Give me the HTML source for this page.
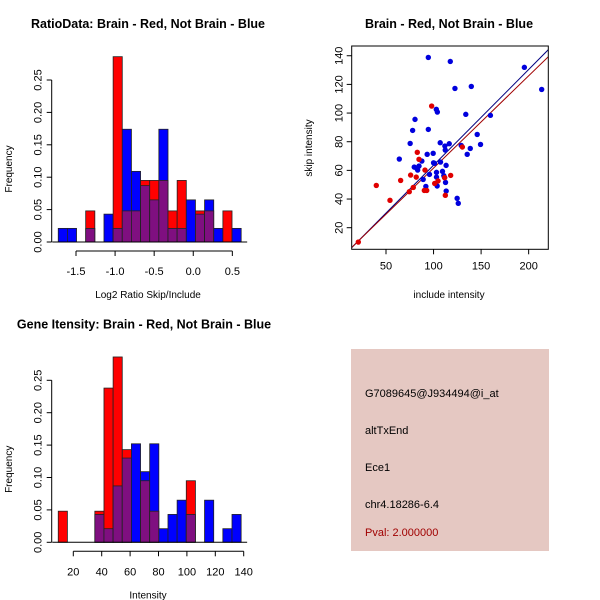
<!DOCTYPE html>
<html><head><meta charset="utf-8">
<style>
body{margin:0;background:#fff;}
svg{display:block;font-family:"Liberation Sans",Arial,sans-serif;}
</style></head>
<body>
<svg id="chart" width="600" height="600" viewBox="0 0 600 600">
<rect x="351" y="349" width="198" height="202" fill="#e5c8c2"/>
<text x="365" y="397" font-size="11">G7089645@J934494@i_at</text>
<text x="365" y="434" font-size="11">altTxEnd</text>
<text x="365" y="471" font-size="11">Ece1</text>
<text x="365" y="508" font-size="11">chr4.18286-6.4</text>
<text x="365" y="536" font-size="11" fill="#a00000">Pval: 2.000000</text>
</svg>
<script>
// ---- Ratio histogram data ----
const ratioBinStart = -1.727, ratioBinWidth = 0.117;
const ratioRed  = [0,0,0,0.048,0,0,0.286,0.048,0.048,0.095,0.095,0.095,0.048,0.095,0,0.048,0.048,0,0.048,0];
const ratioBlue = [0.021,0.021,0,0.021,0,0.043,0.021,0.174,0.109,0.087,0.065,0.174,0.021,0.021,0.065,0.043,0.065,0.021,0,0.021];
const ratioXTicks = [-1.5,-1.0,-0.5,0.0,0.5];
const ratioXLabels = ["-1.5","-1.0","-0.5","0.0","0.5"];
const freqTicks = [0,0.05,0.10,0.15,0.20,0.25];
const freqLabels = ["0.00","0.05","0.10","0.15","0.20","0.25"];
// ---- Intensity histogram data ----
const intBinStart = 9.4, intBinWidth = 6.44;
const intRed  = [0.048,0,0,0,0.048,0.238,0.286,0.143,0,0.095,0.048,0,0,0,0.095,0,0,0,0,0];
const intBlue = [0,0,0,0,0.043,0.021,0.087,0.130,0.152,0.109,0.152,0.021,0.043,0.065,0.043,0,0.065,0,0.021,0.043];
const intXTicks = [20,40,60,80,100,120,140];
const intXLabels = ["20","40","60","80","100","120","140"];
// ---- Scatter data ----
const blueX = [94.5,117.6,195.5,213.7,122.5,139.7,80.5,102.9,104,78,94.5,133.9,159.8,75.4,107,116.5,111.9,129.1,145.9,149.4,138.6,112.3,99.6,93.3,135.4,64,87.7,107.3,101,79.7,82.3,84.7,83.3,109.4,103.1,95.7,113.2,110.8,103.1,111.5,89.1,112.6,91.9,103.8,113.3,124.8,126,100];
const blueY = [138.8,136,131.9,116.5,117.2,118.6,95.6,102.6,100.7,87.9,88.6,99.1,98.4,78.8,79.3,78.6,77,77.4,85.1,78.1,75.3,74.2,71.9,71.2,71.2,67.9,66.5,65.8,64.9,62.3,61.4,63,60.2,59.3,58.6,57.2,63.5,56.3,55.3,55.1,53.7,51.6,48.8,49.1,45.6,40.5,37,65.3];
const redX = [20.9,39.8,54.2,65.4,75.9,74.5,78.7,81.8,82.9,84.7,91,90.3,92.8,98,101.2,104.7,112.4,111.7,118,130.3];
const redY = [10,49.5,39.1,53,56.7,45.1,48.1,55.3,72.6,67.7,60.2,46,46,104.9,50.9,52.6,42.6,54.9,56.5,76.3];
const blueFit = [-3.2,0.668]; // intercept, slope
const redFit = [-2.8,0.644];
const scXTicks = [50,100,150,200];
const scYTicks = [20,40,60,80,100,120,140];

const svg = document.getElementById('chart');
const NS = 'http://www.w3.org/2000/svg';
function mk(tag, attrs, parent){const e=document.createElementNS(NS,tag);for(const k in attrs)e.setAttribute(k,attrs[k]);(parent||svg).appendChild(e);return e;}
function txt(x,y,s,attrs,parent){const e=mk('text',Object.assign({x:x,y:y,'font-size':11},attrs||{}),parent);e.textContent=s;return e;}

function histogram(cfg){
  const g = mk('g',{});
  
  
  const X = v => cfg.x0 + (v - cfg.xref) * cfg.xs;
  const Y = v => cfg.base - v * 648;
  for(let i=0;i<cfg.red.length;i++){
    const a = cfg.start + i*cfg.w, b = a + cfg.w;
    const r = cfg.red[i], bl = cfg.blue[i];
    const hi = Math.max(r,bl), lo = Math.min(r,bl);
    if(hi>0){
      const bar = mk('rect',{x:X(a),y:Y(hi),width:X(b)-X(a),height:Y(0)-Y(hi),fill:r>bl?'#ff0000':'#0000ff',stroke:'#222','stroke-width':0.8},g);
      
      
    }
    if(lo>0){
      const ov = mk('rect',{x:X(a),y:Y(lo),width:X(b)-X(a),height:Y(0)-Y(lo),fill:'#7f0f80',stroke:'#222','stroke-width':0.8},g);
      
      
    }
  }
  mk('line',{x1:X(cfg.start)-6,x2:X(cfg.start+cfg.red.length*cfg.w)+6,y1:Y(0),y2:Y(0),stroke:'#000'},g);
  const ya = mk('g',{},g);
  
  
  const yx = cfg.yaxisX;
  mk('line',{x1:yx,x2:yx,y1:Y(0),y2:Y(0.25),stroke:'#000'},ya);
  freqTicks.forEach((t,i)=>{
    mk('line',{x1:yx-5,x2:yx,y1:Y(t),y2:Y(t),stroke:'#000'},ya);
    txt(yx-10,Y(t),freqLabels[i],{'text-anchor':'middle',transform:`rotate(-90 ${yx-10} ${Y(t)})`},ya);
  });
  const yt = txt(12,(Y(0)+Y(0.25))/2+8,'Frequency',{'font-size':10,'text-anchor':'middle',transform:`rotate(-90 12 ${(Y(0)+Y(0.25))/2+8})`},g);
  
  
  const xa = mk('g',{},g);
  
  
  const ay = cfg.base + 9;
  mk('line',{x1:X(cfg.xt[0]),x2:X(cfg.xt[cfg.xt.length-1]),y1:ay,y2:ay,stroke:'#000'},xa);
  cfg.xt.forEach((t,i)=>{
    mk('line',{x1:X(t),x2:X(t),y1:ay,y2:ay+5,stroke:'#000'},xa);
    txt(X(t),ay+24,cfg.xl[i],{'text-anchor':'middle'},xa);
  });
  const xt = txt(148,cfg.base+56,cfg.xtitle,{'font-size':10,'text-anchor':'middle'},g);
  
  
  const tt = txt(cfg.titleX,cfg.base-214,cfg.title,{'font-size':12.5,'font-weight':'bold','text-anchor':'middle'},g);
  
  
}

histogram({name:'ratio-histogram',start:ratioBinStart,w:ratioBinWidth,red:ratioRed,blue:ratioBlue,
  x0:76,xref:-1.5,xs:78.17,base:242,yaxisX:51.7,xt:ratioXTicks,xl:ratioXLabels,titleX:148,
  xtitle:'Log2 Ratio Skip/Include',title:'RatioData: Brain - Red, Not Brain - Blue'});
histogram({name:'intensity-histogram',start:intBinStart,w:intBinWidth,red:intRed,blue:intBlue,
  x0:73.3,xref:20,xs:1.42,base:542.3,yaxisX:51.7,xt:intXTicks,xl:intXLabels,titleX:144,
  xtitle:'Intensity',title:'Gene Itensity: Brain - Red, Not Brain - Blue'});

(function(){
  const g = mk('g',{});
  
  
  const L=351.7,R=548.3,T=46,B=249.3;
  const X = v => 386 + (v-50)*0.951;
  const Y = v => 227.7 - (v-20)*1.433;
  const clip = mk('clipPath',{id:'scclip'},g);
  mk('rect',{x:L,y:T,width:R-L,height:B-T},clip);
  const lines = mk('g',{'clip-path':'url(#scclip)'},g);
  [[blueFit,'#000080','blue-fit-line'],[redFit,'#a00000','red-fit-line']].forEach(([f,c,n])=>{
    const xa=0, xb=240;
    const ln = mk('line',{x1:X(xa),y1:Y(f[0]+f[1]*xa),x2:X(xb),y2:Y(f[0]+f[1]*xb),stroke:c,'stroke-width':1},lines);
    
    
  });
  blueX.forEach((x,i)=>{
    const p = mk('circle',{cx:X(x),cy:Y(blueY[i]),r:2.7,fill:'#0000dd'},g);
    
    
  });
  redX.forEach((x,i)=>{
    const p = mk('circle',{cx:X(x),cy:Y(redY[i]),r:2.7,fill:'#e00000'},g);
    
    
  });
  const fr = mk('rect',{x:L,y:T,width:R-L,height:B-T,fill:'none',stroke:'#000'},g);
  
  
  scXTicks.forEach(t=>{
    mk('line',{x1:X(t),x2:X(t),y1:B,y2:B+5,stroke:'#000'},g);
    txt(X(t),B+20,String(t),{'text-anchor':'middle'},g);
  });
  scYTicks.forEach(t=>{
    mk('line',{x1:L-5,x2:L,y1:Y(t),y2:Y(t),stroke:'#000'},g);
    txt(L-9,Y(t),String(t),{'text-anchor':'middle',transform:`rotate(-90 ${L-9} ${Y(t)})`},g);
  });
  const xt = txt(449,298,'include intensity',{'font-size':10,'text-anchor':'middle'},g);
  
  
  const yt = txt(312,148,'skip intensity',{'font-size':10,'text-anchor':'middle',transform:'rotate(-90 312 148)'},g);
  
  
  const tt = txt(449,28,'Brain - Red, Not Brain - Blue',{'font-size':12.5,'font-weight':'bold','text-anchor':'middle'},g);
  
  
})();
</script>
</body></html>
